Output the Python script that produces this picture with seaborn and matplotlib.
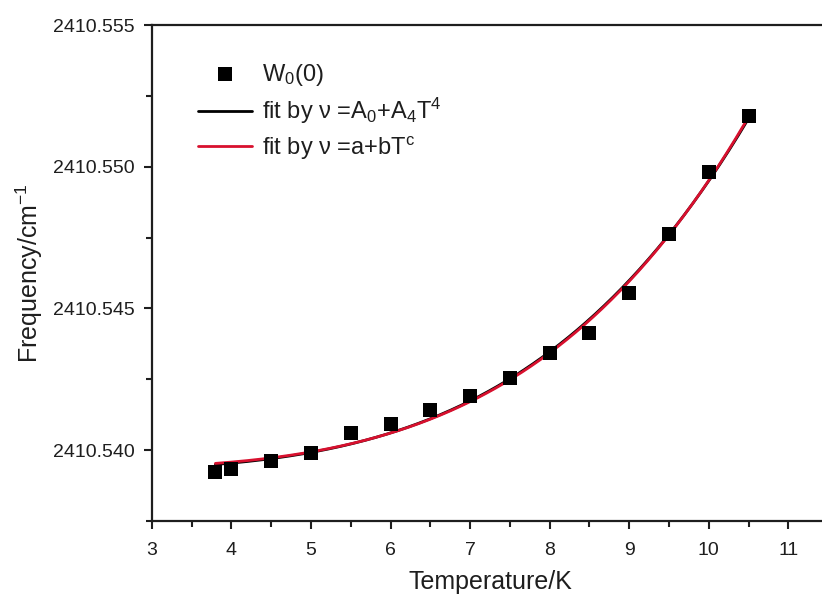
import numpy as np
import pandas as pd
import matplotlib
matplotlib.use("Agg")
import matplotlib.pyplot as plt
import seaborn as sns
from matplotlib.ticker import MultipleLocator, FormatStrFormatter

# Measured line position of W0(0) versus temperature
temperature_K = [3.8, 4.0, 4.5, 5.0, 5.5, 6.0, 6.5, 7.0, 7.5, 8.0, 8.5, 9.0, 9.5, 10.0, 10.5]
frequency_cm = [2410.53922, 2410.53933, 2410.53962, 2410.53989, 2410.54060,
                2410.54092, 2410.54141, 2410.54191, 2410.54254, 2410.54342,
                2410.54413, 2410.54554, 2410.54762, 2410.54981, 2410.55179]

series_labels = ["W$_0$(0)", "fit by ν =A$_0$+A$_4$T$^4$", "fit by ν =a+bT$^c$"]
x_ticks = [3, 4, 5, 6, 7, 8, 9, 10, 11]
y_ticks = [2410.540, 2410.545, 2410.550, 2410.555]

sns.set_theme(style="ticks")
plt.rcParams["font.family"] = ["Liberation Sans", "DejaVu Sans"]
plt.rcParams["mathtext.fontset"] = "custom"
plt.rcParams["mathtext.rm"] = "Liberation Sans"
plt.rcParams["mathtext.it"] = "Liberation Sans"
plt.rcParams["mathtext.default"] = "regular"

T = np.asarray(temperature_K, dtype=float)
nu = np.asarray(frequency_cm, dtype=float)
nu0 = nu.min()

# Least-squares fit: nu = A0 + A4 T^4
M4 = np.column_stack([np.ones_like(T), T ** 4])
coef4, *_ = np.linalg.lstsq(M4, nu - nu0, rcond=None)

# Least-squares fit: nu = a + b T^c (scan exponent, linear solve for a, b)
best = None
for c in np.linspace(1.5, 8.0, 651):
    Mc = np.column_stack([np.ones_like(T), T ** c])
    cf, *_ = np.linalg.lstsq(Mc, nu - nu0, rcond=None)
    r = np.sum((Mc @ cf - (nu - nu0)) ** 2)
    if best is None or r < best[0]:
        best = (r, c, cf)
_, c_best, coefc = best

Tf = np.linspace(T.min(), T.max(), 300)
fit4 = nu0 + coef4[0] + coef4[1] * Tf ** 4
fitc = nu0 + coefc[0] + coefc[1] * Tf ** c_best

points = pd.DataFrame({"T": T, "nu": nu})
curves = pd.DataFrame({"T": Tf, "fit4": fit4, "fitc": fitc})

fig = plt.figure(figsize=(8.22, 5.97), dpi=100)
ax = fig.add_axes([0.1846, 0.1273, 0.8230, 0.8308])

text_color = "#1e1e1e"
red = "#d8102e"

sns.lineplot(data=curves, x="T", y="fit4", ax=ax, color="black", lw=2.0,
             label=series_labels[1], zorder=2)
sns.lineplot(data=curves, x="T", y="fitc", ax=ax, color=red, lw=2.0,
             label=series_labels[2], zorder=3)
sns.scatterplot(data=points, x="T", y="nu", ax=ax, marker="s", s=90,
                color="black", edgecolor="black", linewidth=0,
                label=series_labels[0], zorder=4)

ax.set_xlim(3, 11.5)
ax.set_ylim(2410.5375, 2410.555)
ax.set_xticks(x_ticks)
ax.set_yticks(y_ticks)
ax.xaxis.set_minor_locator(MultipleLocator(0.5))
ax.yaxis.set_minor_locator(MultipleLocator(0.0025))
ax.yaxis.set_major_formatter(FormatStrFormatter("%.3f"))

for side in ["left", "bottom", "top", "right"]:
    ax.spines[side].set_visible(True)
    ax.spines[side].set_linewidth(1.6)
    ax.spines[side].set_color(text_color)

ax.tick_params(axis="both", which="major", direction="out", length=6, width=1.5,
               colors=text_color, labelsize=14, pad=6)
ax.tick_params(axis="x", which="major", pad=9)
ax.tick_params(axis="both", which="minor", direction="out", length=4, width=1.5,
               colors=text_color)
ax.tick_params(axis="x", which="both", top=False)
ax.tick_params(axis="y", which="both", right=False)

ax.set_xlabel("Temperature/K", fontsize=18, color=text_color, labelpad=8)
ax.set_ylabel("Frequency/cm$^{-1}$", fontsize=18, color=text_color, labelpad=6)

handles, labels = ax.get_legend_handles_labels()
order = [labels.index(s) for s in series_labels]
leg = ax.legend([handles[i] for i in order], [labels[i] for i in order],
                loc="upper left", bbox_to_anchor=(0.037, 0.969), frameon=False,
                fontsize=17, handlelength=2.3, handletextpad=0.42,
                labelspacing=0.35, markerscale=1.0)
for t in leg.get_texts():
    t.set_color(text_color)

fig.savefig("out.png", dpi=100, facecolor="white")
